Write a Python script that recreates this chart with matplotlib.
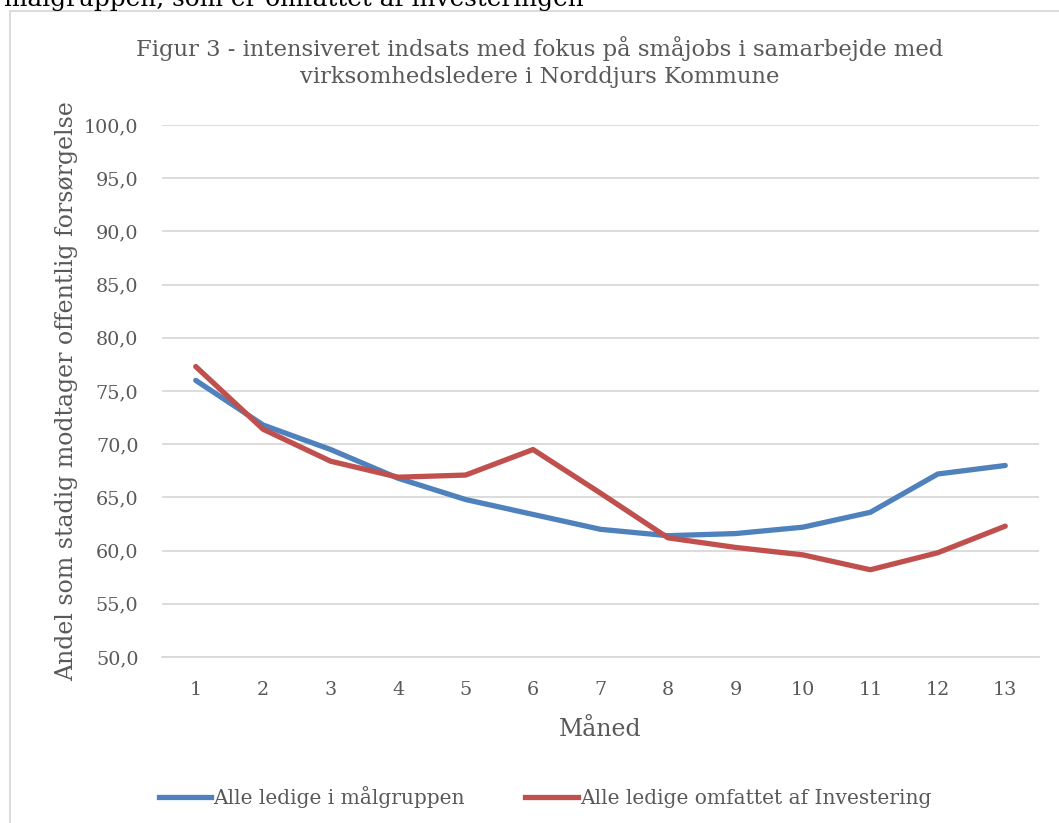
import matplotlib
matplotlib.use("Agg")
import matplotlib.pyplot as plt
from matplotlib.patches import Rectangle
from matplotlib.lines import Line2D

months = list(range(1, 14))
month_labels = [str(m) for m in months]
alle_ledige = [76.0, 71.8, 69.5, 66.8, 64.8, 63.4, 62.0, 61.4, 61.6, 62.2, 63.6, 67.2, 68.0]
investering = [77.3, 71.4, 68.4, 66.9, 67.1, 69.5, 65.4, 61.2, 60.3, 59.6, 58.2, 59.8, 62.3]
yticks = [50 + 5 * i for i in range(11)]
series_names = ["Alle ledige i målgruppen", "Alle ledige omfattet af Investering"]
title = "Figur 3 - intensiveret indsats med fokus på småjobs i samarbejde med\nvirksomhedsledere i Norddjurs Kommune"

plt.rcParams['font.family'] = ['DejaVu Serif']
gray = "#595959"
W, H = 1059, 823
fig = plt.figure(figsize=(W / 100, H / 100), dpi=100)

# chart frame
fig.patches.append(Rectangle((10 / W, -0.1), 1.2, 1.1 - 11 / H, transform=fig.transFigure,
                             fill=False, edgecolor="#D9D9D9", linewidth=1.3))
# text of the surrounding document, cut off at the top edge as in the source
fig.text(4 / W, 1 - 6 / H, "målgruppen, som er omfattet af investeringen", fontsize=17.8,
         color="black", ha="left", va="baseline")

ax = fig.add_axes([162 / W, (H - 657) / H, (1039 - 162) / W, (657 - 125) / H])
ax.plot(months, alle_ledige, color="#4F81BD", linewidth=3.8, solid_capstyle="round",
        solid_joinstyle="round")
ax.plot(months, investering, color="#C0504D", linewidth=3.8, solid_capstyle="round",
        solid_joinstyle="round")
ax.set_xlim(0.5, 13.5)
ax.set_ylim(50, 100)
ax.set_yticks(yticks)
ax.set_yticklabels([f"{v:.1f}".replace(".", ",") for v in yticks])
ax.set_xticks(months)
ax.set_xticklabels(month_labels)
ax.grid(axis="y", color="#D9D9D9", linewidth=1.3)
ax.set_axisbelow(True)
for s in ["top", "right", "left"]:
    ax.spines[s].set_visible(False)
ax.spines["bottom"].set_color("#D9D9D9")
ax.spines["bottom"].set_linewidth(1.3)
ax.tick_params(axis="both", length=0, labelsize=13.8, colors=gray)
ax.tick_params(axis="x", pad=17)
ax.tick_params(axis="y", pad=17)
ax.set_xlabel("Måned", fontsize=17, color=gray, labelpad=14)
ax.set_ylabel("Andel som stadig modtager offentlig forsørgelse", fontsize=17, color=gray,
              labelpad=4)

fig.text(540 / W, 1 - 62 / H, title, fontsize=16.3, color=gray, ha="center", va="center",
         linespacing=1.33)

handles = [Line2D([], [], color="#4F81BD", linewidth=3.8),
           Line2D([], [], color="#C0504D", linewidth=3.8)]
fig.legend(handles, series_names, loc="center", bbox_to_anchor=(545 / W, 1 - 797 / H),
           ncol=2, frameon=False, fontsize=14.5, labelcolor=gray, handlelength=2.6,
           handletextpad=0.1, columnspacing=3.0)

fig.savefig("out.png", dpi=100)
